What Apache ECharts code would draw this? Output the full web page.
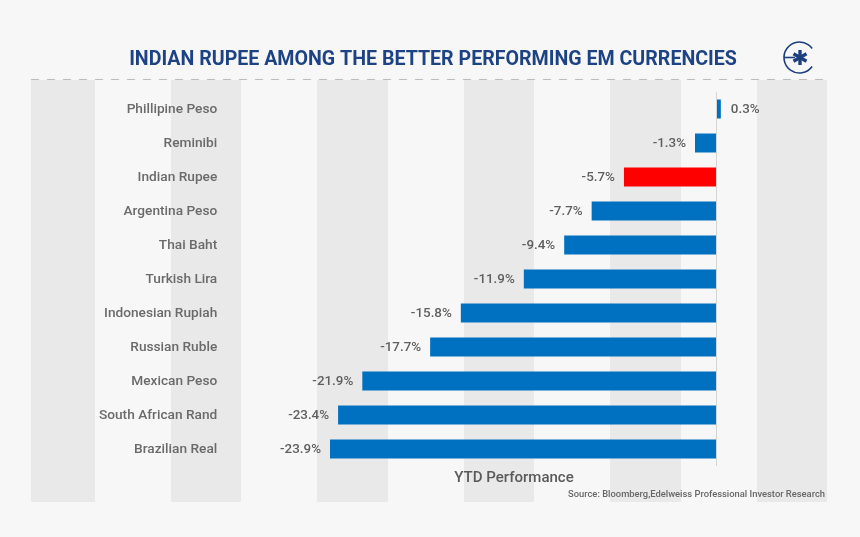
<!DOCTYPE html>
<html lang="en">
<head>
    <meta charset="UTF-8">
    <title>Indian Rupee among EM currencies</title>
    <script src="https://cdn.jsdelivr.net/npm/echarts@6/dist/echarts.min.js"></script>
    <style>
        html, body { margin: 0; padding: 0; background: #f7f7f7; }
        #chart { width: 860px; height: 537px; }
    </style>
</head>
<body>
    <div id="chart"></div>
    <script>
        const currencies = ['Phillipine Peso', 'Reminibi', 'Indian Rupee', 'Argentina Peso', 'Thai Baht', 'Turkish Lira',
            'Indonesian Rupiah', 'Russian Ruble', 'Mexican Peso', 'South African Rand', 'Brazilian Real'];
        const ytdValues = [0.3, -1.3, -5.7, -7.7, -9.4, -11.9, -15.8, -17.7, -21.9, -23.4, -23.9];
        const highlighted = 'Indian Rupee';

        const chartTitle = 'INDIAN RUPEE AMONG THE BETTER PERFORMING EM CURRENCIES';
        const axisTitle = 'YTD Performance';
        const sourceNote = 'Source: Bloomberg,Edelweiss Professional Investor Research';

        const font = 'Roboto, "Noto Sans", sans-serif';
        const logoBlue = '#1d3f7f';

        // grey background bands
        const bands = [[31, 64], [171, 70], [317, 71], [464, 70], [610, 71], [757, 70]].map(b => ({
            type: 'rect', silent: true, z: -10,
            shape: { x: b[0], y: 80, width: b[1], height: 422 },
            style: { fill: '#e9e9e9' }
        }));

        // logo in the top right corner: open ring, stem and a six spoke asterisk
        const spokes = [30, 90, 150].map(deg => {
            const a = deg * Math.PI / 180;
            return {
                type: 'line',
                shape: { x1: 800 - 7.5 * Math.cos(a), y1: 57.5 - 7.5 * Math.sin(a), x2: 800 + 7.5 * Math.cos(a), y2: 57.5 + 7.5 * Math.sin(a) },
                style: { stroke: logoBlue, lineWidth: 3.4 }
            };
        });
        const logo = [
            { type: 'arc', shape: { cx: 799.5, cy: 57.5, r: 15.5, startAngle: 0.62, endAngle: -0.62, clockwise: true },
              style: { stroke: logoBlue, lineWidth: 1.6, fill: null } },
            { type: 'line', shape: { x1: 784, y1: 57.5, x2: 795, y2: 57.5 }, style: { stroke: logoBlue, lineWidth: 1.6 } }
        ].concat(spokes);

        const chart = echarts.init(document.getElementById('chart'));
        chart.setOption({
            backgroundColor: '#f7f7f7',
            animation: false,
            title: [
                { text: chartTitle, left: 433, top: 50, padding: 0, textAlign: 'center',
                  textStyle: { fontFamily: font, fontSize: 19.6, fontWeight: 'bold', color: '#1d4384' } },
                { text: axisTitle, left: 514, top: 471, padding: 0, textAlign: 'center',
                  textStyle: { fontFamily: font, fontSize: 15, fontWeight: 500, color: '#5a5a5a' } },
                { text: sourceNote, left: 825, top: 490, padding: 0, textAlign: 'right',
                  textStyle: { fontFamily: font, fontSize: 9.4, fontWeight: 500, color: '#666' } }
            ],
            grid: { left: 312.25, width: 484.5, top: 92, height: 374 },
            xAxis: {
                type: 'value', min: -25, max: 5, show: false
            },
            yAxis: {
                type: 'category',
                data: currencies,
                inverse: true,
                axisLine: { show: false, onZero: false },
                axisTick: { show: false },
                splitLine: { show: false },
                axisLabel: {
                    margin: 95,
                    formatter: v => '{name|' + v + '}',
                    rich: {
                        // the rich box is only used to push the names down a pixel
                        name: { padding: [2, 0, 0, 0], fontFamily: font, fontSize: 13.7, fontWeight: 500, color: '#6a6a6a' }
                    }
                }
            },
            series: [{
                type: 'bar',
                barWidth: 19,
                data: ytdValues.map((v, i) => ({
                    value: v,
                    itemStyle: { color: currencies[i] === highlighted ? '#ff0000' : '#0070c0' },
                    label: { position: v < 0 ? 'left' : 'right', offset: [v < 0 ? 0 : 1, 1] }
                })),
                label: {
                    show: true,
                    distance: 9,
                    formatter: p => p.value + '%',
                    fontFamily: font, fontSize: 13.4, fontWeight: 500, color: '#5f5f5f'
                },
                markLine: {
                    silent: true,
                    symbol: 'none',
                    label: { show: false },
                    lineStyle: { color: '#d4d4d4', width: 1, type: 'solid' },
                    data: [{ xAxis: 0 }]
                }
            }],
            graphic: bands.concat(logo, [
                { type: 'line', silent: true, shape: { x1: 31, y1: 79.5, x2: 830, y2: 79.5 },
                  style: { stroke: '#bdbdbd', lineWidth: 1, lineDash: [8, 8] } }
            ])
        });
    </script>
</body>
</html>
